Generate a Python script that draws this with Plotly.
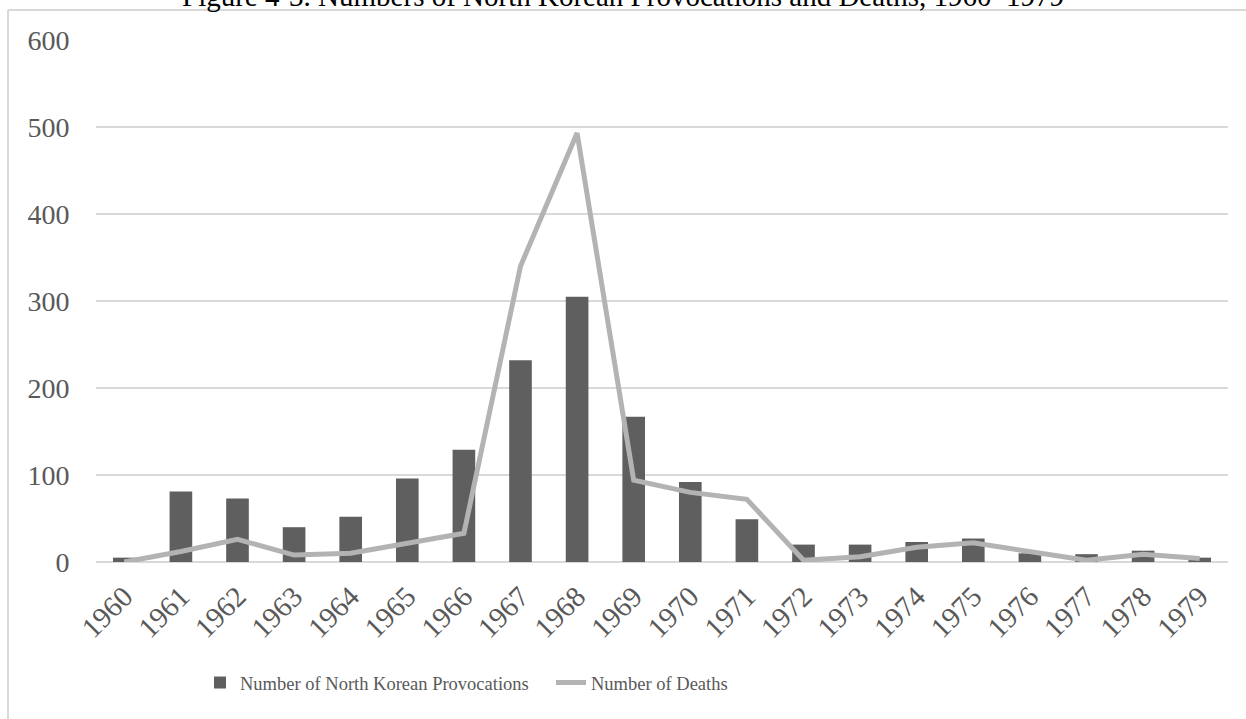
import plotly.graph_objects as go

years = [str(y) for y in range(1960, 1980)]
provocations = [5, 81, 73, 40, 52, 96, 129, 232, 305, 167, 92, 49, 20, 20, 23, 27, 10, 9, 13, 5]
deaths = [0, 12, 26, 8, 10, 22, 33, 340, 493, 94, 80, 72, 2, 6, 17, 22, 12, 2, 9, 4]
y_ticks = [0, 100, 200, 300, 400, 500, 600]

W, H = 1246, 719
ML, MR, MT, MB = 96, 18, 40, 157
PW, PH = W - ML - MR, H - MT - MB


def px_x(x):
    return (x - ML) / PW


def px_y(y):
    return (H - MB - y) / PH


FONT = "Liberation Serif"
TXT = "#595959"
GRID = "#d9d9d9"

fig = go.Figure()
fig.add_trace(go.Bar(
    x=years, y=provocations, name="Number of North Korean Provocations",
    marker=dict(color="#5f5f5f", line=dict(width=0)),
))
fig.add_trace(go.Scatter(
    x=years, y=deaths, name="Number of Deaths", mode="lines",
    line=dict(color="#b3b3b3", width=5),
))

fig.update_layout(
    width=W, height=H,
    margin=dict(l=ML, r=MR, t=MT, b=MB),
    paper_bgcolor="white", plot_bgcolor="white",
    bargap=0.6,
    showlegend=True,
    font=dict(family=FONT, color=TXT, size=26),
    legend=dict(
        orientation="h", x=px_x(200), xanchor="left", y=px_y(683), yanchor="middle",
        font=dict(family=FONT, size=18.5, color=TXT), entrywidth=306,
        itemwidth=30, traceorder="normal",
    ),
    xaxis=dict(
        type="category", tickangle=-45, tickfont=dict(size=29, color=TXT, family=FONT),
        showgrid=False, showline=False, zeroline=False,
        ticks="outside", ticklen=5, tickcolor="rgba(0,0,0,0)",
    ),
    yaxis=dict(
        range=[0, 600], tickvals=y_ticks, ticktext=[str(v) for v in y_ticks],
        showgrid=True, gridcolor=GRID, gridwidth=2, zeroline=True, zerolinecolor=GRID,
        zerolinewidth=2, showline=False, ticks="outside", ticklen=20,
        tickcolor="rgba(0,0,0,0)", tickfont=dict(size=28, color=TXT, family=FONT),
    ),
    shapes=[
        dict(type="line", xref="paper", yref="paper", x0=px_x(8), x1=px_x(W + 5),
             y0=px_y(10), y1=px_y(10), line=dict(color=GRID, width=2)),
        dict(type="line", xref="paper", yref="paper", x0=px_x(8), x1=px_x(8),
             y0=px_y(10), y1=px_y(H + 5), line=dict(color=GRID, width=2)),
    ],
    annotations=[
        dict(text="Figure 4-3. Numbers of North Korean Provocations and Deaths, 1960–1979",
             xref="paper", yref="paper", x=px_x(623), y=px_y(-4), xanchor="center",
             yanchor="middle", showarrow=False,
             font=dict(family=FONT, size=29, color="black")),
    ],
)

fig.write_html("out.html")
